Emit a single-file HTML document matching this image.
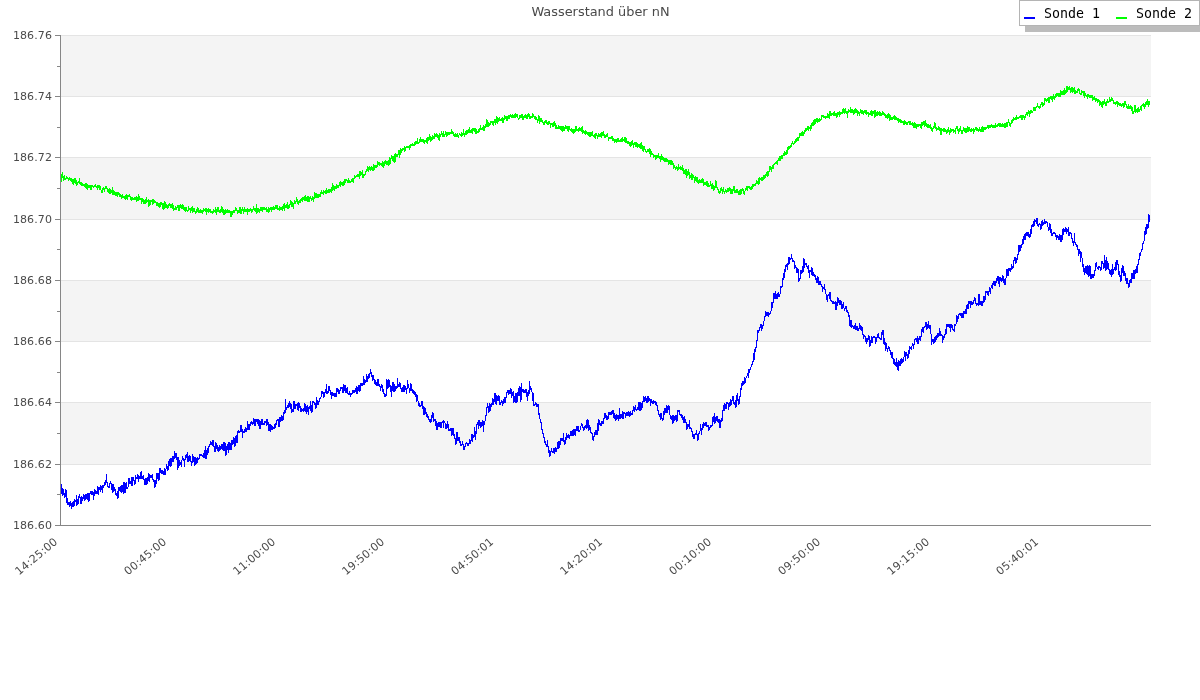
<!DOCTYPE html>
<html><head><meta charset="utf-8"><title>Wasserstand über nN</title>
<style>
html,body{margin:0;padding:0;background:#fff;}
body{width:1200px;height:700px;overflow:hidden;}
svg{display:block;}
text{font-family:"DejaVu Sans","Liberation Sans",sans-serif;fill:#4a4a4a;}
.leg{font-family:"DejaVu Sans Mono","Liberation Mono",monospace;fill:#000;font-size:13.3px;}
</style></head><body>
<svg width="1200" height="700" viewBox="0 0 1200 700">
<rect x="0" y="0" width="1200" height="700" fill="#fff"/>
<rect x="61" y="36" width="1090" height="60" fill="#f4f4f4"/>
<rect x="61" y="158" width="1090" height="61" fill="#f4f4f4"/>
<rect x="61" y="281" width="1090" height="60" fill="#f4f4f4"/>
<rect x="61" y="403" width="1090" height="61" fill="#f4f4f4"/>
<rect x="61" y="35" width="1090" height="1" fill="#e4e4e4"/>
<rect x="61" y="96" width="1090" height="1" fill="#e4e4e4"/>
<rect x="61" y="157" width="1090" height="1" fill="#e4e4e4"/>
<rect x="61" y="219" width="1090" height="1" fill="#e4e4e4"/>
<rect x="61" y="280" width="1090" height="1" fill="#e4e4e4"/>
<rect x="61" y="341" width="1090" height="1" fill="#e4e4e4"/>
<rect x="61" y="402" width="1090" height="1" fill="#e4e4e4"/>
<rect x="61" y="464" width="1090" height="1" fill="#e4e4e4"/>
<rect x="60" y="35" width="1" height="491" fill="#868686"/>
<rect x="55" y="525" width="1096" height="1" fill="#868686"/>
<rect x="55" y="35" width="5" height="1" fill="#868686"/>
<rect x="57" y="66" width="3" height="1" fill="#868686"/>
<rect x="55" y="96" width="5" height="1" fill="#868686"/>
<rect x="57" y="127" width="3" height="1" fill="#868686"/>
<rect x="55" y="157" width="5" height="1" fill="#868686"/>
<rect x="57" y="188" width="3" height="1" fill="#868686"/>
<rect x="55" y="219" width="5" height="1" fill="#868686"/>
<rect x="57" y="249" width="3" height="1" fill="#868686"/>
<rect x="55" y="280" width="5" height="1" fill="#868686"/>
<rect x="57" y="311" width="3" height="1" fill="#868686"/>
<rect x="55" y="341" width="5" height="1" fill="#868686"/>
<rect x="57" y="372" width="3" height="1" fill="#868686"/>
<rect x="55" y="402" width="5" height="1" fill="#868686"/>
<rect x="57" y="433" width="3" height="1" fill="#868686"/>
<rect x="55" y="464" width="5" height="1" fill="#868686"/>
<rect x="57" y="494" width="3" height="1" fill="#868686"/>
<rect x="55" y="525" width="5" height="1" fill="#868686"/>
<text x="52" y="39" font-size="11" letter-spacing="0.1" text-anchor="end">186.76</text>
<text x="52" y="100" font-size="11" letter-spacing="0.1" text-anchor="end">186.74</text>
<text x="52" y="161" font-size="11" letter-spacing="0.1" text-anchor="end">186.72</text>
<text x="52" y="223" font-size="11" letter-spacing="0.1" text-anchor="end">186.70</text>
<text x="52" y="284" font-size="11" letter-spacing="0.1" text-anchor="end">186.68</text>
<text x="52" y="345" font-size="11" letter-spacing="0.1" text-anchor="end">186.66</text>
<text x="52" y="406" font-size="11" letter-spacing="0.1" text-anchor="end">186.64</text>
<text x="52" y="468" font-size="11" letter-spacing="0.1" text-anchor="end">186.62</text>
<text x="52" y="529" font-size="11" letter-spacing="0.1" text-anchor="end">186.60</text>
<text transform="translate(58.2,542.8) rotate(-40)" font-size="11" letter-spacing="0.2" text-anchor="end">14:25:00</text>
<text transform="translate(167.2,542.8) rotate(-40)" font-size="11" letter-spacing="0.2" text-anchor="end">00:45:00</text>
<text transform="translate(276.2,542.8) rotate(-40)" font-size="11" letter-spacing="0.2" text-anchor="end">11:00:00</text>
<text transform="translate(385.2,542.8) rotate(-40)" font-size="11" letter-spacing="0.2" text-anchor="end">19:50:00</text>
<text transform="translate(494.2,542.8) rotate(-40)" font-size="11" letter-spacing="0.2" text-anchor="end">04:50:01</text>
<text transform="translate(603.2,542.8) rotate(-40)" font-size="11" letter-spacing="0.2" text-anchor="end">14:20:01</text>
<text transform="translate(712.2,542.8) rotate(-40)" font-size="11" letter-spacing="0.2" text-anchor="end">00:10:00</text>
<text transform="translate(821.2,542.8) rotate(-40)" font-size="11" letter-spacing="0.2" text-anchor="end">09:50:00</text>
<text transform="translate(930.2,542.8) rotate(-40)" font-size="11" letter-spacing="0.2" text-anchor="end">19:15:00</text>
<text transform="translate(1039.2,542.8) rotate(-40)" font-size="11" letter-spacing="0.2" text-anchor="end">05:40:01</text>
<text x="600.5" y="16" font-size="12.9" text-anchor="middle">Wasserstand über nN</text>
<path shape-rendering="crispEdges" fill="none" stroke="#0000ff" stroke-width="1" transform="translate(0.5,0)" d="M61 484v10M61 486v6M62 488v8M63 489v6M64 493v5M65 489v8M66 490v13M67 498v7M68 502v3M69 502v5M70 501v5M71 503v6M72 502v5M73 501v6M74 499v7M75 500v2M76 495v11M77 499v6M78 496v8M79 494v4M80 497v7M81 496v8M82 497v4M83 494v5M84 495v6M85 494v6M86 494v5M87 493v7M88 493v9M89 493v8M90 491v3M91 491v4M92 491v4M93 492v8M94 489v7M95 490v4M96 491v3M97 486v8M98 487v8M99 487v3M100 485v7M101 486v4M102 485v8M103 485v3M104 482v4M105 480v5M106 474v9M107 482v5M108 486v2M109 483v5M110 481v3M111 483v7M112 484v9M113 484v8M114 487v4M115 489v6M116 493v3M117 491v8M118 487v11M119 487v4M120 486v6M121 485v8M122 485v7M123 482v12M124 482v11M125 483v10M126 482v7M127 487v2M128 478v9M129 478v6M130 481v3M131 477v9M132 477v9M133 477v4M134 480v5M135 475v9M136 477v2M137 474v5M138 475v7M139 476v3M140 472v7M141 471v8M142 476v3M143 475v5M144 479v6M145 478v7M146 478v7M147 477v7M148 473v8M149 474v8M150 475v3M151 475v3M152 474v6M153 479v3M154 480v8M155 480v7M156 473v11M157 473v6M158 473v8M159 468v12M160 468v5M161 470v4M162 470v4M163 471v4M164 468v7M165 469v6M166 464v5M167 466v5M168 461v9M169 459v7M170 458v9M171 458v8M172 456v6M173 456v6M174 451v8M175 453v5M176 453v7M177 457v13M178 457v11M179 460v6M180 462v3M181 460v7M182 456v4M183 458v3M184 459v8M185 455v5M186 454v4M187 452v10M188 456v6M189 455v6M190 456v6M191 461v5M192 454v9M193 456v6M194 457v9M195 457v8M196 458v6M197 457v6M198 458v2M199 454v5M200 454v2M201 454v2M202 455v2M203 453v5M204 450v8M205 446v13M206 450v9M207 448v7M208 446v7M209 444v3M210 441v4M211 442v3M212 440v6M213 440v7M214 446v6M215 442v10M216 443v6M217 445v6M218 447v5M219 445v6M220 446v4M221 444v5M222 444v6M223 442v9M224 442v9M225 443v13M226 446v9M227 444v6M228 442v11M229 442v8M230 443v7M231 440v10M232 440v5M233 437v7M234 438v9M235 436v10M236 435v8M237 431v12M238 430v3M239 431v2M240 425v7M241 425v7M242 429v9M243 431v2M244 429v4M245 427v5M246 428v4M247 421v9M248 424v6M249 424v6M250 422v4M251 421v3M252 422v3M253 418v6M254 419v7M255 419v7M256 419v3M257 419v5M258 419v7M259 420v9M260 421v8M261 419v6M262 419v6M263 423v2M264 421v4M265 421v2M266 419v7M267 419v6M268 422v9M269 424v7M270 424v8M271 425v5M272 426v4M273 427v2M274 424v5M275 423v5M276 420v5M277 419v2M278 419v8M279 417v10M280 417v5M281 415v6M282 416v5M283 412v8M284 410v4M285 399v14M286 407v3M287 405v3M288 403v5M289 401v6M290 403v6M291 404v9M292 409v3M293 401v11M294 401v8M295 404v5M296 404v2M297 403v7M298 402v9M299 403v5M300 406v6M301 408v4M302 409v2M303 408v4M304 403v8M305 404v8M306 406v8M307 405v7M308 407v8M309 406v3M310 401v10M311 405v8M312 401v11M313 401v2M314 402v3M315 403v6M316 397v11M317 400v5M318 401v4M319 398v4M320 397v2M321 391v6M322 391v3M323 392v6M324 392v5M325 389v4M326 384v10M327 391v3M328 386v7M329 386v5M330 390v5M331 392v7M332 392v4M333 393v3M334 393v4M335 393v4M336 388v9M337 388v4M338 389v5M339 390v4M340 387v4M341 387v2M342 387v6M343 384v9M344 385v6M345 385v8M346 388v5M347 387v7M348 393v2M349 391v4M350 393v4M351 393v2M352 390v4M353 390v3M354 390v3M355 388v4M356 386v8M357 387v7M358 385v6M359 385v7M360 383v8M361 383v3M362 383v3M363 376v9M364 379v6M365 380v3M366 374v8M367 376v6M368 374v5M369 373v5M370 369v5M371 372v5M372 375v6M373 375v5M374 379v5M375 380v5M376 382v4M377 379v7M378 379v7M379 384v3M380 386v5M381 384v4M382 385v7M383 389v5M384 393v4M385 394v3M386 379v17M387 380v9M388 379v9M389 380v7M390 385v7M391 386v11M392 382v9M393 382v10M394 384v8M395 386v5M396 386v3M397 378v10M398 384v3M399 382v5M400 383v6M401 388v4M402 387v5M403 385v7M404 385v7M405 386v4M406 388v6M407 380v9M408 384v4M409 388v5M410 383v8M411 384v7M412 389v4M413 390v4M414 391v4M415 392v5M416 394v8M417 395v6M418 401v5M419 403v4M420 405v2M421 401v5M422 401v8M423 406v9M424 407v8M425 408v6M426 412v5M427 414v4M428 416v4M429 419v3M430 419v4M431 415v7M432 412v6M433 413v9M434 419v2M435 419v7M436 421v9M437 423v7M438 422v5M439 422v5M440 422v6M441 422v6M442 421v2M443 420v8M444 421v2M445 423v6M446 424v5M447 421v7M448 424v7M449 429v2M450 428v3M451 428v8M452 428v7M453 428v8M454 434v5M455 438v7M456 432v12M457 432v9M458 437v4M459 437v6M460 441v5M461 444v2M462 441v4M463 444v6M464 446v4M465 443v4M466 442v2M467 443v3M468 443v3M469 439v5M470 440v4M471 434v7M472 434v8M473 435v3M474 427v10M475 431v9M476 424v10M477 422v3M478 420v9M479 420v6M480 422v6M481 422v5M482 420v6M483 421v11M484 421v4M485 415v6M486 407v9M487 403v5M488 406v7M489 403v9M490 404v7M491 403v4M492 398v7M493 399v6M494 393v9M495 393v11M496 395v10M497 396v5M498 395v6M499 396v9M500 402v3M501 400v3M502 401v5M503 399v5M504 397v6M505 397v6M506 392v6M507 390v3M508 390v5M509 390v4M510 388v6M511 389v9M512 392v4M513 391v12M514 396v6M515 393v10M516 393v10M517 392v10M518 388v8M519 386v10M520 387v15M521 383v17M522 389v3M523 389v4M524 390v3M525 389v4M526 389v8M527 392v9M528 390v6M529 381v13M530 386v4M531 388v4M532 392v9M533 393v13M534 404v2M535 402v3M536 403v4M537 404v3M538 404v11M539 413v6M540 419v4M541 422v8M542 429v5M543 433v5M544 437v6M545 441v4M546 444v3M547 440v7M548 446v7M549 450v7M550 451v5M551 448v4M552 451v2M553 448v5M554 448v6M555 447v5M556 448v4M557 442v7M558 441v8M559 441v7M560 438v7M561 438v3M562 438v3M563 433v9M564 440v5M565 437v7M566 433v7M567 435v3M568 434v4M569 435v4M570 431v5M571 431v5M572 430v6M573 429v7M574 429v6M575 429v7M576 426v5M577 426v5M578 426v6M579 430v2M580 426v4M581 423v3M582 424v4M583 427v4M584 426v4M585 425v3M586 420v9M587 419v9M588 420v11M589 425v5M590 427v6M591 432v2M592 433v7M593 436v5M594 432v5M595 430v5M596 430v5M597 423v12M598 419v12M599 420v5M600 423v3M601 421v5M602 421v3M603 418v6M604 413v6M605 413v5M606 415v5M607 416v4M608 412v7M609 412v3M610 412v3M611 411v4M612 410v4M613 410v8M614 413v6M615 415v6M616 414v6M617 415v4M618 415v6M619 408v11M620 414v5M621 414v4M622 411v8M623 412v7M624 412v2M625 413v5M626 412v4M627 412v4M628 411v5M629 412v5M630 411v5M631 413v2M632 410v5M633 406v5M634 407v5M635 405v5M636 409v2M637 407v3M638 402v8M639 402v9M640 402v9M641 403v7M642 401v7M643 396v6M644 397v5M645 396v5M646 398v5M647 396v7M648 396v6M649 398v3M650 399v7M651 399v4M652 401v3M653 400v4M654 401v2M655 401v4M656 402v4M657 405v6M658 410v5M659 414v3M660 413v7M661 413v6M662 418v3M663 411v9M664 408v7M665 408v5M666 405v8M667 406v7M668 405v5M669 406v9M670 415v4M671 416v4M672 415v9M673 415v8M674 416v5M675 415v5M676 415v7M677 410v11M678 410v2M679 410v5M680 414v2M681 414v4M682 415v5M683 417v6M684 416v7M685 419v4M686 422v8M687 424v5M688 424v3M689 420v9M690 427v2M691 428v4M692 431v6M693 434v5M694 434v5M695 433v2M696 430v5M697 434v7M698 433v7M699 431v3M700 424v7M701 428v7M702 424v6M703 422v6M704 423v3M705 422v4M706 422v5M707 425v2M708 425v6M709 427v3M710 425v3M711 425v2M712 417v9M713 416v6M714 413v11M715 417v6M716 416v5M717 416v6M718 419v4M719 419v9M720 420v8M721 418v4M722 410v11M723 405v6M724 403v8M725 404v5M726 402v7M727 402v2M728 403v7M729 402v5M730 399v7M731 400v5M732 396v5M733 396v8M734 402v3M735 400v8M736 395v12M737 393v8M738 399v6M739 396v8M740 388v9M741 383v7M742 381v5M743 381v4M744 377v7M745 378v5M746 376v2M747 373v3M748 369v9M749 369v4M750 367v3M751 364v3M752 361v4M753 353v9M754 349v11M755 347v5M756 340v8M757 330v11M758 330v3M759 327v4M760 324v4M761 324v7M762 325v4M763 321v5M764 316v5M765 311v6M766 312v4M767 312v4M768 312v5M769 313v2M770 311v3M771 302v9M772 302v6M773 293v10M774 293v6M775 291v8M776 294v5M777 293v6M778 292v5M779 294v3M780 286v8M781 286v2M782 278v9M783 273v7M784 269v9M785 265v7M786 264v3M787 263v7M788 257v8M789 257v7M790 258v2M791 254v5M792 258v4M793 260v2M794 261v8M795 265v3M796 267v6M797 268v5M798 269v13M799 278v3M800 270v9M801 270v4M802 266v7M803 258v14M804 259v9M805 263v2M806 263v4M807 266v3M808 265v8M809 270v8M810 270v2M811 267v8M812 268v8M813 272v4M814 274v3M815 275v5M816 278v5M817 276v7M818 277v8M819 281v4M820 281v4M821 284v3M822 286v6M823 287v2M824 284v6M825 289v5M826 294v6M827 295v7M828 294v2M829 292v7M830 292v9M831 300v2M832 301v3M833 301v3M834 302v2M835 301v9M836 302v8M837 297v9M838 298v5M839 300v5M840 300v5M841 301v8M842 304v5M843 302v6M844 308v3M845 306v3M846 306v6M847 310v3M848 312v5M849 315v11M850 320v7M851 320v8M852 325v2M853 326v3M854 325v4M855 323v7M856 326v4M857 326v5M858 328v3M859 323v6M860 325v5M861 326v5M862 327v8M863 334v5M864 335v2M865 336v6M866 338v6M867 338v4M868 335v5M869 336v11M870 340v6M871 336v7M872 337v6M873 336v2M874 336v2M875 337v7M876 337v5M877 334v4M878 333v5M879 337v2M880 338v2M881 332v8M882 330v5M883 330v14M884 338v7M885 342v9M886 343v6M887 348v4M888 346v3M889 347v4M890 350v5M891 352v6M892 352v7M893 358v6M894 359v6M895 362v4M896 358v9M897 362v8M898 360v11M899 361v5M900 359v7M901 358v6M902 359v4M903 357v5M904 351v6M905 352v9M906 352v4M907 354v5M908 350v8M909 346v8M910 347v2M911 346v4M912 343v3M913 344v5M914 339v6M915 338v2M916 338v4M917 336v8M918 338v6M919 336v4M920 336v5M921 329v8M922 327v5M923 327v6M924 326v2M925 322v5M926 322v8M927 324v5M928 321v7M929 325v4M930 325v9M931 334v11M932 339v3M933 339v5M934 337v6M935 336v6M936 335v5M937 333v5M938 333v4M939 328v8M940 331v5M941 334v2M942 335v8M943 336v4M944 334v4M945 329v6M946 324v10M947 324v3M948 324v3M949 324v4M950 324v8M951 324v4M952 325v5M953 329v2M954 324v8M955 324v2M956 315v9M957 316v6M958 314v5M959 313v2M960 313v3M961 313v5M962 313v5M963 311v7M964 311v3M965 309v5M966 305v9M967 304v5M968 301v8M969 301v3M970 301v7M971 301v4M972 302v3M973 300v4M974 297v4M975 298v6M976 303v3M977 303v2M978 294v12M979 294v11M980 301v4M981 301v5M982 301v5M983 296v7M984 296v6M985 291v9M986 291v2M987 291v4M988 291v5M989 287v5M990 288v6M991 285v3M992 283v6M993 281v4M994 281v5M995 281v5M996 278v5M997 276v5M998 276v8M999 277v10M1000 277v4M1001 278v4M1002 275v6M1003 276v7M1004 279v6M1005 278v7M1006 269v9M1007 269v7M1008 268v8M1009 268v3M1010 268v4M1011 264v6M1012 266v3M1013 260v8M1014 257v4M1015 257v7M1016 258v5M1017 254v6M1018 245v10M1019 245v7M1020 245v6M1021 244v4M1022 239v6M1023 236v8M1024 234v6M1025 233v7M1026 232v4M1027 232v4M1028 232v5M1029 234v4M1030 229v8M1031 225v9M1032 224v3M1033 221v6M1034 219v7M1035 220v2M1036 218v6M1037 218v8M1038 224v3M1039 223v2M1040 224v6M1041 221v8M1042 220v6M1043 222v3M1044 219v5M1045 221v3M1046 221v2M1047 222v5M1048 227v4M1049 223v7M1050 224v9M1051 229v7M1052 233v3M1053 232v2M1054 232v2M1055 233v4M1056 235v5M1057 235v3M1058 236v4M1059 234v6M1060 235v7M1061 235v7M1062 229v11M1063 228v7M1064 229v3M1065 227v5M1066 228v6M1067 229v3M1068 227v9M1069 232v4M1070 232v2M1071 233v6M1072 238v5M1073 241v5M1074 233v10M1075 242v3M1076 244v3M1077 245v5M1078 249v7M1079 249v5M1080 251v11M1081 252v6M1082 258v9M1083 264v8M1084 268v7M1085 266v7M1086 266v8M1087 265v10M1088 266v11M1089 265v11M1090 266v13M1091 274v5M1092 274v4M1093 274v4M1094 270v6M1095 263v8M1096 262v5M1097 267v2M1098 266v4M1099 266v2M1100 267v4M1101 261v9M1102 261v3M1103 263v6M1104 255v13M1105 260v11M1106 257v13M1107 261v8M1108 263v7M1109 269v5M1110 270v5M1111 269v8M1112 264v11M1113 269v5M1114 267v3M1115 262v9M1116 260v10M1117 260v5M1118 264v11M1119 271v6M1120 275v7M1121 268v13M1122 265v8M1123 266v10M1124 271v5M1125 273v8M1126 278v6M1127 278v6M1128 283v5M1129 280v7M1130 279v4M1131 273v10M1132 273v6M1133 270v9M1134 270v9M1135 269v5M1136 266v7M1137 264v9M1138 259v6M1139 253v7M1140 252v4M1141 249v3M1142 243v7M1143 241v3M1144 231v10M1145 227v8M1146 224v10M1147 224v5M1148 214v14M1149 215v7"/>
<path shape-rendering="crispEdges" fill="none" stroke="#00ff00" stroke-width="1" transform="translate(0.5,0)" d="M61 174v8M62 172v6M63 176v5M64 175v5M65 178v2M66 176v3M67 177v2M68 178v3M69 177v3M70 178v3M71 178v4M72 179v5M73 179v6M74 178v5M75 178v6M76 180v6M77 182v3M78 181v2M79 178v6M80 182v3M81 182v4M82 183v3M83 184v2M84 184v3M85 183v5M86 183v6M87 184v6M88 185v3M89 185v3M90 185v5M91 185v5M92 185v2M93 186v2M94 185v2M95 184v3M96 186v2M97 185v5M98 185v3M99 185v5M100 186v4M101 190v3M102 188v5M103 187v3M104 188v4M105 186v3M106 186v3M107 188v4M108 189v4M109 188v6M110 189v5M111 190v3M112 187v8M113 190v5M114 191v4M115 192v4M116 192v4M117 192v5M118 192v3M119 193v4M120 194v3M121 195v4M122 194v4M123 196v2M124 196v3M125 195v5M126 194v5M127 195v5M128 195v2M129 194v3M130 196v4M131 197v4M132 197v3M133 198v2M134 197v3M135 197v3M136 196v6M137 197v4M138 194v7M139 196v4M140 198v2M141 198v6M142 198v4M143 199v5M144 200v4M145 199v5M146 197v6M147 200v2M148 199v8M149 200v6M150 200v5M151 200v2M152 199v6M153 199v5M154 200v3M155 201v2M156 202v4M157 202v4M158 203v4M159 203v5M160 202v5M161 202v3M162 203v6M163 203v7M164 201v8M165 202v6M166 204v4M167 205v4M168 204v4M169 203v3M170 204v4M171 204v4M172 203v6M173 205v6M174 208v2M175 206v4M176 207v3M177 205v3M178 205v6M179 205v6M180 204v4M181 205v4M182 204v5M183 205v5M184 207v4M185 207v5M186 207v4M187 210v2M188 206v5M189 208v2M190 208v5M191 207v4M192 206v7M193 208v4M194 208v4M195 211v3M196 209v4M197 207v5M198 208v5M199 210v3M200 209v4M201 210v3M202 210v4M203 208v4M204 209v2M205 208v4M206 208v7M207 209v3M208 208v5M209 209v3M210 209v4M211 211v2M212 211v3M213 209v4M214 210v2M215 207v6M216 209v6M217 207v5M218 207v5M219 210v3M220 209v4M221 206v6M222 207v6M223 209v6M224 210v5M225 209v5M226 210v3M227 209v4M228 210v3M229 210v3M230 211v6M231 211v6M232 211v4M233 210v3M234 210v3M235 207v4M236 208v3M237 210v4M238 210v3M239 207v6M240 207v7M241 209v5M242 207v4M243 209v5M244 207v5M245 209v3M246 209v3M247 208v7M248 209v3M249 209v3M250 208v3M251 209v4M252 209v3M253 206v4M254 208v3M255 208v4M256 204v10M257 208v5M258 208v4M259 209v4M260 207v4M261 207v4M262 207v5M263 207v3M264 207v3M265 208v2M266 207v5M267 209v3M268 207v6M269 208v4M270 207v3M271 207v5M272 207v3M273 206v4M274 207v3M275 205v4M276 205v4M277 205v5M278 208v2M279 206v5M280 207v3M281 207v3M282 206v5M283 204v5M284 203v8M285 205v3M286 204v4M287 202v7M288 205v4M289 204v4M290 200v5M291 201v6M292 202v5M293 203v6M294 200v4M295 201v3M296 197v5M297 199v5M298 201v4M299 200v3M300 199v4M301 198v3M302 197v5M303 197v3M304 196v5M305 195v6M306 197v4M307 196v6M308 196v6M309 197v5M310 196v3M311 198v3M312 196v4M313 197v5M314 192v7M315 193v5M316 193v5M317 194v4M318 194v4M319 194v3M320 192v5M321 190v4M322 192v2M323 190v5M324 191v2M325 190v4M326 188v6M327 190v3M328 189v4M329 189v4M330 189v3M331 187v6M332 183v8M333 185v5M334 186v5M335 186v3M336 184v5M337 185v3M338 185v3M339 182v4M340 181v6M341 182v3M342 182v4M343 181v5M344 179v6M345 179v4M346 179v2M347 180v3M348 178v5M349 180v3M350 181v2M351 179v3M352 178v4M353 178v5M354 175v4M355 176v2M356 175v2M357 174v3M358 174v3M359 171v8M360 171v5M361 172v3M362 170v8M363 174v4M364 174v2M365 171v4M366 169v3M367 166v5M368 167v5M369 166v4M370 167v4M371 166v4M372 167v4M373 164v7M374 165v5M375 165v3M376 165v3M377 161v6M378 162v3M379 162v4M380 163v2M381 163v3M382 161v6M383 162v6M384 161v5M385 160v4M386 161v4M387 161v4M388 160v6M389 157v8M390 158v6M391 155v4M392 156v5M393 156v6M394 154v9M395 153v9M396 154v3M397 154v3M398 150v5M399 150v8M400 148v7M401 149v4M402 148v3M403 148v2M404 146v6M405 147v4M406 146v2M407 146v2M408 146v2M409 145v5M410 144v4M411 144v2M412 143v3M413 144v2M414 142v4M415 141v4M416 141v3M417 138v6M418 142v2M419 139v4M420 137v5M421 139v3M422 139v3M423 139v4M424 140v4M425 140v2M426 138v5M427 137v7M428 137v4M429 134v6M430 136v6M431 137v4M432 135v5M433 136v3M434 133v6M435 134v3M436 133v4M437 134v4M438 135v5M439 133v8M440 134v3M441 131v4M442 133v4M443 131v6M444 134v3M445 131v4M446 132v5M447 132v4M448 132v3M449 132v3M450 132v2M451 129v5M452 131v3M453 132v4M454 134v3M455 133v4M456 134v3M457 133v4M458 135v3M459 133v2M460 134v2M461 132v5M462 133v3M463 129v6M464 133v4M465 131v4M466 130v5M467 130v4M468 129v4M469 127v6M470 130v3M471 129v4M472 128v6M473 128v3M474 128v4M475 128v6M476 129v5M477 131v2M478 129v4M479 128v4M480 125v5M481 128v2M482 127v3M483 125v6M484 126v5M485 124v4M486 119v8M487 120v7M488 122v5M489 123v3M490 121v4M491 121v2M492 121v4M493 121v5M494 119v4M495 119v6M496 116v7M497 117v7M498 118v4M499 117v4M500 119v2M501 118v3M502 117v6M503 118v5M504 115v5M505 116v3M506 116v5M507 116v5M508 115v4M509 115v4M510 114v3M511 115v3M512 114v4M513 115v3M514 114v4M515 113v5M516 114v3M517 114v4M518 118v2M519 115v4M520 115v3M521 114v4M522 114v6M523 116v4M524 115v3M525 114v4M526 115v4M527 114v5M528 113v4M529 114v5M530 116v3M531 116v2M532 113v5M533 114v3M534 116v3M535 116v4M536 117v3M537 119v4M538 115v6M539 116v8M540 118v4M541 118v4M542 120v3M543 122v3M544 121v4M545 120v3M546 120v4M547 122v3M548 121v4M549 121v3M550 123v5M551 123v2M552 123v4M553 122v5M554 121v5M555 123v6M556 125v4M557 127v2M558 125v4M559 126v3M560 126v4M561 126v5M562 126v6M563 126v5M564 127v4M565 125v4M566 126v3M567 126v5M568 126v6M569 126v4M570 129v2M571 128v4M572 129v4M573 129v5M574 129v4M575 126v6M576 126v5M577 129v2M578 128v4M579 127v4M580 128v3M581 127v5M582 126v8M583 130v3M584 131v3M585 130v5M586 131v3M587 132v3M588 132v4M589 132v5M590 132v5M591 132v4M592 131v5M593 135v2M594 134v4M595 133v6M596 133v3M597 135v4M598 133v4M599 134v3M600 133v4M601 132v6M602 132v4M603 131v5M604 134v4M605 135v3M606 134v3M607 133v4M608 137v4M609 137v2M610 137v2M611 136v3M612 136v5M613 138v3M614 139v4M615 139v3M616 139v4M617 138v4M618 138v4M619 140v2M620 139v3M621 138v4M622 137v5M623 139v2M624 137v5M625 137v6M626 138v5M627 141v3M628 141v3M629 142v4M630 142v5M631 141v5M632 140v5M633 143v5M634 142v3M635 142v5M636 142v5M637 143v5M638 144v3M639 144v4M640 143v6M641 142v7M642 145v6M643 146v6M644 146v4M645 149v3M646 151v2M647 149v3M648 149v3M649 148v6M650 149v8M651 151v4M652 153v2M653 154v4M654 155v2M655 155v5M656 155v4M657 155v3M658 153v5M659 156v3M660 156v6M661 154v6M662 156v4M663 157v4M664 158v4M665 158v4M666 158v4M667 159v3M668 160v5M669 160v4M670 160v5M671 160v5M672 161v4M673 163v6M674 165v3M675 167v3M676 166v3M677 167v4M678 164v6M679 167v2M680 166v4M681 167v3M682 165v6M683 168v6M684 170v4M685 169v6M686 169v9M687 171v5M688 169v6M689 172v7M690 175v3M691 173v7M692 174v6M693 175v3M694 177v6M695 176v5M696 177v5M697 177v6M698 180v4M699 179v4M700 180v3M701 179v4M702 178v5M703 179v7M704 182v3M705 182v3M706 181v5M707 181v6M708 183v4M709 185v2M710 181v5M711 184v5M712 183v6M713 185v6M714 186v4M715 180v8M716 181v7M717 187v3M718 189v4M719 191v3M720 188v5M721 187v4M722 189v5M723 187v5M724 191v3M725 189v3M726 190v3M727 188v4M728 188v4M729 187v4M730 188v6M731 189v5M732 189v5M733 186v5M734 186v7M735 190v3M736 189v4M737 189v4M738 191v4M739 190v5M740 189v6M741 189v5M742 188v3M743 189v5M744 191v4M745 188v3M746 186v4M747 186v5M748 186v2M749 186v3M750 187v3M751 186v4M752 184v5M753 184v3M754 184v2M755 183v3M756 180v4M757 181v3M758 178v7M759 177v7M760 178v2M761 177v4M762 177v4M763 175v5M764 175v4M765 174v4M766 172v4M767 171v6M768 171v5M769 166v6M770 166v4M771 167v5M772 165v4M773 164v5M774 163v2M775 162v2M776 161v3M777 160v5M778 158v3M779 156v5M780 156v5M781 155v4M782 155v4M783 153v3M784 151v5M785 152v3M786 150v5M787 147v7M788 146v4M789 146v3M790 145v3M791 143v4M792 141v3M793 143v2M794 141v3M795 139v4M796 138v4M797 137v4M798 137v4M799 133v5M800 133v3M801 132v4M802 131v5M803 132v4M804 130v4M805 128v4M806 128v3M807 126v4M808 126v5M809 127v2M810 125v6M811 123v6M812 122v4M813 120v6M814 119v6M815 119v5M816 118v4M817 118v5M818 119v3M819 118v4M820 119v2M821 115v5M822 115v2M823 115v3M824 116v2M825 116v3M826 116v2M827 113v5M828 114v4M829 111v8M830 111v5M831 113v3M832 113v2M833 112v4M834 111v5M835 113v3M836 113v5M837 112v5M838 112v3M839 111v6M840 112v3M841 112v2M842 109v5M843 108v5M844 109v5M845 108v5M846 111v3M847 111v7M848 109v4M849 110v2M850 107v6M851 109v4M852 109v4M853 110v5M854 109v5M855 108v5M856 109v4M857 110v6M858 111v3M859 112v4M860 109v4M861 110v4M862 110v4M863 111v4M864 110v3M865 110v4M866 110v5M867 112v2M868 112v5M869 113v2M870 111v4M871 110v6M872 111v5M873 111v3M874 110v8M875 110v7M876 112v4M877 111v5M878 112v3M879 111v5M880 112v4M881 113v3M882 111v4M883 112v3M884 113v3M885 114v4M886 115v3M887 114v5M888 113v5M889 114v7M890 115v5M891 117v3M892 117v3M893 116v3M894 115v5M895 116v4M896 117v3M897 118v3M898 118v5M899 119v3M900 119v4M901 120v3M902 121v2M903 121v4M904 120v5M905 121v3M906 122v3M907 122v3M908 121v2M909 121v4M910 121v4M911 123v2M912 122v4M913 123v5M914 122v6M915 123v5M916 124v5M917 124v3M918 124v3M919 124v2M920 124v4M921 122v7M922 122v4M923 121v4M924 121v6M925 120v6M926 123v4M927 124v4M928 124v4M929 125v3M930 124v5M931 127v4M932 128v4M933 126v3M934 122v6M935 123v6M936 127v4M937 128v2M938 126v4M939 127v4M940 128v7M941 128v7M942 129v2M943 128v4M944 128v4M945 129v3M946 130v4M947 129v4M948 127v5M949 130v5M950 128v5M951 129v3M952 129v2M953 129v4M954 130v2M955 128v6M956 126v3M957 126v5M958 129v5M959 128v4M960 126v5M961 130v4M962 130v4M963 127v4M964 128v4M965 128v5M966 128v5M967 126v6M968 127v5M969 127v4M970 129v3M971 128v4M972 129v2M973 128v6M974 129v3M975 127v3M976 127v4M977 128v3M978 129v3M979 127v4M980 129v3M981 127v5M982 126v6M983 127v5M984 127v3M985 127v3M986 127v2M987 125v3M988 125v4M989 125v3M990 125v3M991 124v3M992 125v3M993 125v3M994 125v3M995 123v5M996 125v2M997 124v3M998 123v3M999 123v4M1000 123v4M1001 124v3M1002 123v4M1003 124v3M1004 123v5M1005 123v5M1006 122v5M1007 122v5M1008 119v4M1009 122v4M1010 123v4M1011 120v4M1012 119v4M1013 117v4M1014 118v2M1015 117v3M1016 115v5M1017 117v2M1018 117v2M1019 116v2M1020 115v3M1021 115v5M1022 115v5M1023 115v3M1024 116v4M1025 114v4M1026 112v3M1027 112v4M1028 110v4M1029 111v6M1030 110v4M1031 110v3M1032 111v2M1033 107v4M1034 107v4M1035 107v4M1036 106v2M1037 103v4M1038 106v2M1039 106v3M1040 104v4M1041 102v3M1042 102v5M1043 103v3M1044 98v7M1045 98v3M1046 99v3M1047 98v3M1048 97v6M1049 97v6M1050 96v3M1051 96v4M1052 96v6M1053 94v5M1054 96v4M1055 94v4M1056 93v4M1057 93v3M1058 93v4M1059 93v4M1060 90v7M1061 91v4M1062 91v4M1063 90v5M1064 88v7M1065 90v4M1066 86v7M1067 86v6M1068 87v3M1069 86v4M1070 88v5M1071 87v5M1072 87v6M1073 88v4M1074 87v7M1075 90v4M1076 91v2M1077 89v4M1078 88v3M1079 89v5M1080 93v2M1081 90v5M1082 91v2M1083 91v5M1084 91v7M1085 93v3M1086 95v2M1087 94v5M1088 94v3M1089 95v3M1090 95v3M1091 95v3M1092 95v6M1093 97v3M1094 96v4M1095 98v4M1096 98v3M1097 99v4M1098 99v3M1099 100v6M1100 101v4M1101 102v5M1102 101v7M1103 101v4M1104 99v5M1105 102v4M1106 101v5M1107 99v4M1108 101v2M1109 97v5M1110 99v3M1111 97v4M1112 98v3M1113 100v4M1114 102v2M1115 102v3M1116 101v3M1117 101v6M1118 102v3M1119 103v3M1120 103v3M1121 104v3M1122 103v3M1123 103v5M1124 101v6M1125 101v4M1126 104v4M1127 106v3M1128 104v5M1129 106v3M1130 105v4M1131 106v5M1132 107v7M1133 111v3M1134 105v7M1135 105v8M1136 109v3M1137 108v5M1138 107v5M1139 109v3M1140 106v4M1141 105v6M1142 104v2M1143 103v4M1144 104v5M1145 102v5M1146 101v4M1147 99v6M1148 101v6M1149 101v4"/>
<rect x="1025" y="26" width="180" height="6" fill="#bcbcbc"/>
<rect x="1019.5" y="0.5" width="180" height="25" fill="#fff" stroke="#b4b4b4" stroke-width="1"/>
<rect x="1024" y="17" width="11" height="2" fill="#0000ff"/>
<rect x="1116" y="17" width="11" height="2" fill="#00ff00"/>
<text class="leg" x="1044" y="18" xml:space="preserve">Sonde 1</text>
<text class="leg" x="1136" y="18" xml:space="preserve">Sonde 2</text>
</svg></body></html>
